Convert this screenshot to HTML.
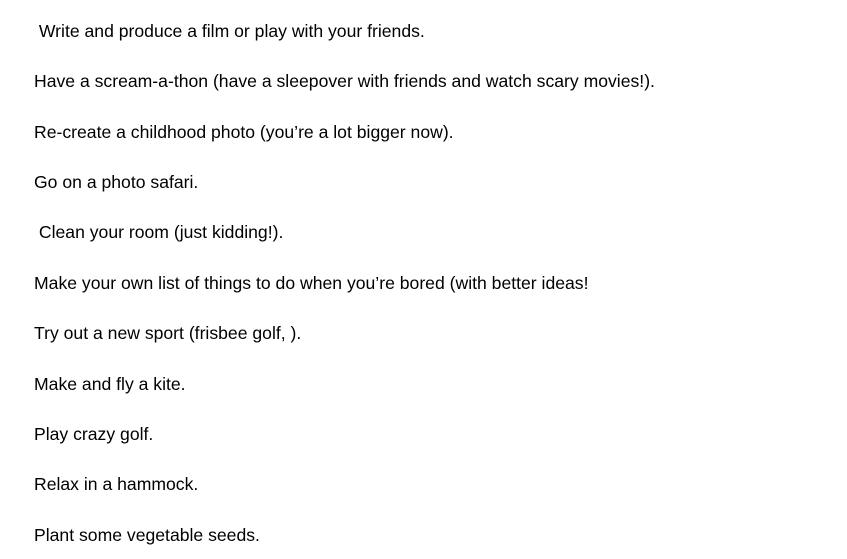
<!DOCTYPE html>
<html><head><meta charset="utf-8"><style>
html,body{margin:0;padding:0;background:#fff;width:847px;height:559px;overflow:hidden}
p{position:absolute;left:34px;margin:0;font-family:"Liberation Sans",sans-serif;font-size:17.6px;line-height:20px;color:#000;white-space:pre}
</style></head><body>
<p style="top:21px"> Write and produce a film or play with your friends.</p>
<p style="top:71px">Have a scream-a-thon (have a sleepover with friends and watch scary movies!).</p>
<p style="top:122px">Re-create a childhood photo (you’re a lot bigger now).</p>
<p style="top:172px">Go on a photo safari.</p>
<p style="top:222px"> Clean your room (just kidding!).</p>
<p style="top:273px">Make your own list of things to do when you’re bored (with better ideas!</p>
<p style="top:323px">Try out a new sport (frisbee golf, ).</p>
<p style="top:374px">Make and fly a kite.</p>
<p style="top:424px">Play crazy golf.</p>
<p style="top:474px">Relax in a hammock.</p>
<p style="top:525px">Plant some vegetable seeds.</p>
</body></html>
